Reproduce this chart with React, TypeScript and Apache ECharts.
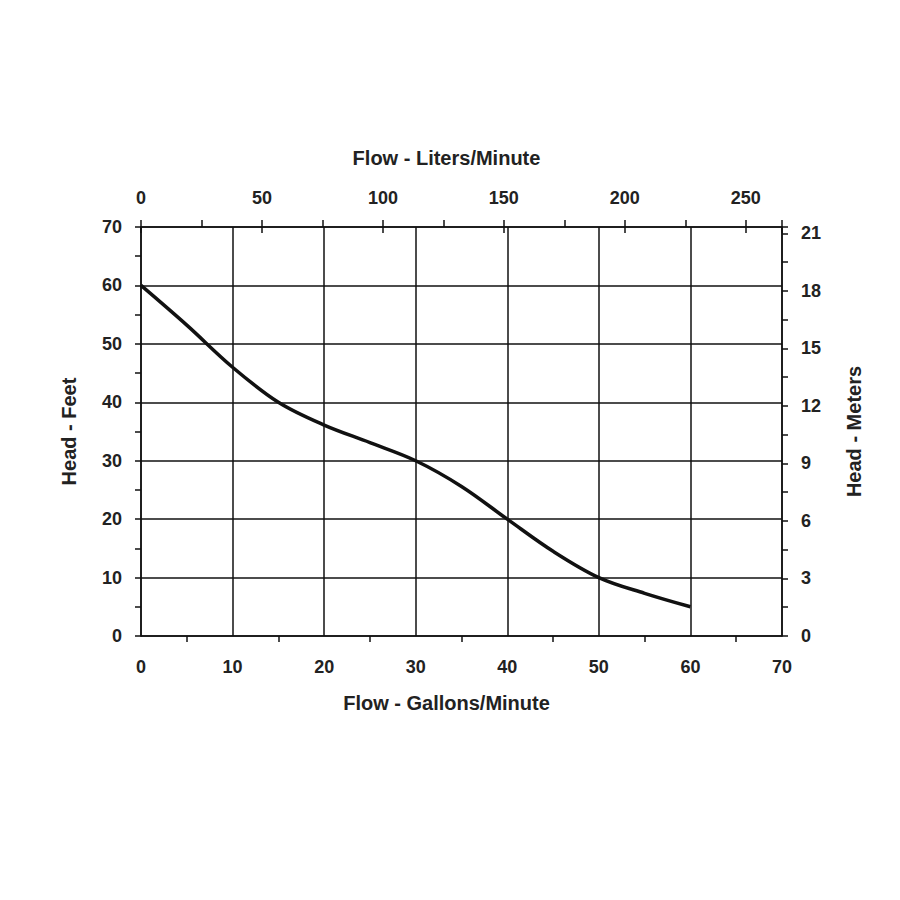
import { useEffect, useRef } from 'react';
import * as echarts from 'echarts';

// pump curve
const gallonsPerMinute = [0, 5, 10, 15, 20, 25, 30, 35, 40, 45, 50, 55, 60];
const headFeet = [60, 53.2, 46, 40, 36.1, 33.1, 30, 25.6, 20, 14.5, 10, 7.3, 5];

const GPM_MAX = 70;
const FEET_MAX = 70;
const LITERS_PER_GALLON = 3.78541;
const METERS_PER_FOOT = 0.3048;

const ink = '#111';
const textColor = '#222';
const font = '"Liberation Sans", Arial, sans-serif';

const labelStyle = {
  fontSize: 18,
  fontWeight: 'bold' as const,
  color: textColor,
  fontFamily: font,
};

const nameStyle = {
  fontSize: 20,
  fontWeight: 'bold' as const,
  color: textColor,
  fontFamily: font,
};

const isMultiple = (v: number, step: number) => Math.abs(v / step - Math.round(v / step)) < 1e-6;

const PumpCurve = () => {
  const chartRef = useRef<HTMLDivElement>(null);

  useEffect(() => {
    if (!chartRef.current) return;
    document.body.style.margin = '0';

    const chart = echarts.init(chartRef.current, null, { renderer: 'svg' });

    const axisLine = { show: true, onZero: false, lineStyle: { color: ink, width: 1.5 } };
    const tickLine = { color: ink, width: 1.5 };

    const option = {
      animation: false,
      backgroundColor: '#fff',
      grid: { left: 141, right: 118, top: 227, bottom: 264 },
      xAxis: [
        {
          type: 'value',
          position: 'bottom',
          min: 0,
          max: GPM_MAX,
          interval: 10,
          axisLine,
          axisTick: { show: false },
          minorTick: { show: true, splitNumber: 2, length: 6, lineStyle: tickLine },
          splitLine: { show: true, lineStyle: { color: ink, width: 1.5 } },
          axisLabel: { ...labelStyle, margin: 22 },
          name: 'Flow - Gallons/Minute',
          nameLocation: 'middle',
          nameGap: 57,
          nameTextStyle: { ...nameStyle, padding: [0, 30, 0, 0] },
        },
        {
          type: 'value',
          position: 'top',
          min: 0,
          max: GPM_MAX * LITERS_PER_GALLON,
          interval: 25,
          axisLine,
          axisTick: { show: true, length: 7, lineStyle: tickLine },
          splitLine: { show: false },
          axisLabel: {
            ...labelStyle,
            margin: 20,
            formatter: (v: number) => (isMultiple(v, 50) ? String(Math.round(v)) : ''),
          },
          name: 'Flow - Liters/Minute',
          nameLocation: 'middle',
          nameGap: 59,
          nameTextStyle: { ...nameStyle, padding: [0, 30, 0, 0] },
        },
        {
          // inner half of the litre ticks
          type: 'value',
          position: 'top',
          min: 0,
          max: GPM_MAX * LITERS_PER_GALLON,
          interval: 50,
          axisLine: { show: false, onZero: false },
          axisTick: { show: true, inside: true, length: 6, lineStyle: tickLine },
          splitLine: { show: false },
          axisLabel: { show: false },
        },
      ],
      yAxis: [
        {
          type: 'value',
          position: 'left',
          min: 0,
          max: FEET_MAX,
          interval: 10,
          axisLine,
          axisTick: { show: true, length: 6, lineStyle: tickLine },
          minorTick: { show: true, splitNumber: 2, length: 6, lineStyle: tickLine },
          splitLine: { show: true, lineStyle: { color: ink, width: 1.5 } },
          axisLabel: { ...labelStyle, margin: 19 },
          name: 'Head - Feet',
          nameLocation: 'middle',
          nameRotate: 90,
          nameGap: 62,
          nameTextStyle: nameStyle,
        },
        {
          type: 'value',
          position: 'right',
          min: 0,
          max: FEET_MAX * METERS_PER_FOOT,
          interval: 1.5,
          axisLine,
          axisTick: { show: true, length: 6, lineStyle: tickLine },
          splitLine: { show: false },
          axisLabel: {
            ...labelStyle,
            margin: 19,
            formatter: (v: number) => (isMultiple(v, 3) ? String(Math.round(v)) : ''),
          },
          name: 'Head - Meters',
          nameLocation: 'middle',
          nameRotate: 90,
          nameGap: 62,
          nameTextStyle: nameStyle,
        },
      ],
      series: [
        {
          type: 'line',
          xAxisIndex: 0,
          yAxisIndex: 0,
          smooth: 0.35,
          symbol: 'none',
          lineStyle: { color: ink, width: 3.5 },
          data: gallonsPerMinute.map((g, i) => [g, headFeet[i]]),
        },
      ],
    };

    chart.setOption(option);

    return () => {
      chart.dispose();
    };
  }, []);

  return <div ref={chartRef} style={{ width: '900px', height: '900px' }} />;
};

export default PumpCurve;
